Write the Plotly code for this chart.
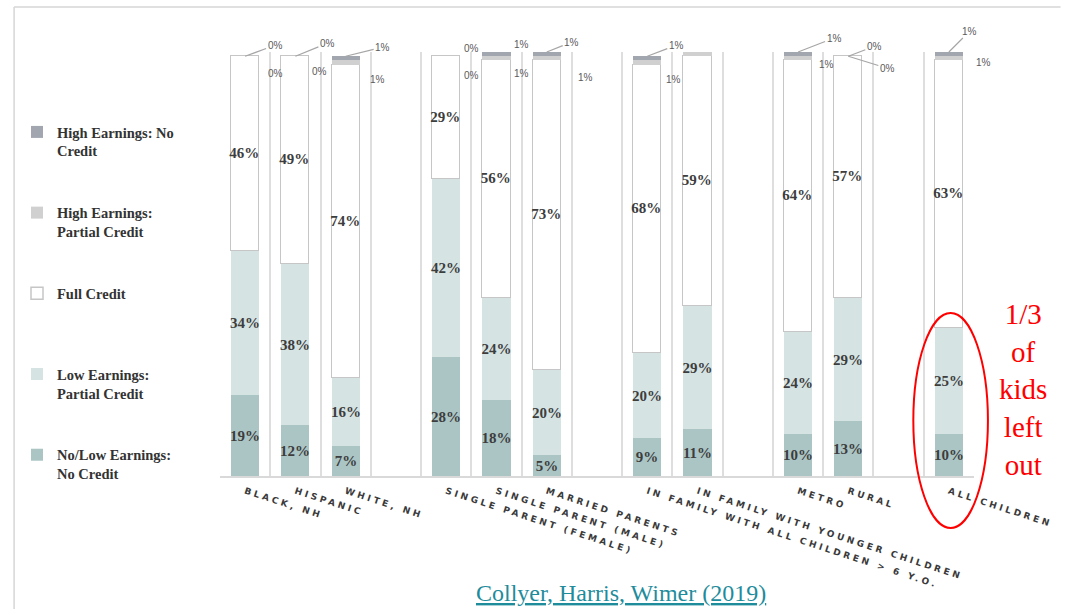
import plotly.graph_objects as go

# ---------------- data ----------------
groups = [
    ["BLACK, NH", "HISPANIC", "WHITE, NH"],
    ["SINGLE PARENT (FEMALE)", "SINGLE PARENT (MALE)", "MARRIED PARENTS"],
    ["IN FAMILY WITH ALL CHILDREN > 6 Y.O.", "IN FAMILY WITH YOUNGER CHILDREN"],
    ["METRO", "RURAL"],
    ["ALL CHILDREN"],
]
no_low_no_credit = [19, 12, 7, 28, 18, 5, 9, 11, 10, 13, 10]
low_partial      = [34, 38, 16, 42, 24, 20, 20, 29, 24, 29, 25]
full_credit      = [46, 49, 74, 29, 56, 73, 68, 59, 64, 57, 63]
high_partial     = [0, 0, 1, 0, 1, 1, 1, 1, 1, 0, 1]
high_no_credit   = [0, 0, 1, 0, 1, 1, 1, 1, 1, 0, 1]

series_names = [
    "No/Low Earnings:<br>No Credit",
    "Low Earnings:<br>Partial Credit",
    "Full Credit<br> ",
    "High Earnings:<br>Partial Credit",
    "High Earnings: No<br>Credit",
]
callout_text = "1/3<br>of<br>kids<br>left<br>out"
citation = "Collyer, Harris, Wimer (2019)"

# ---------------- layout helpers ----------------
categories, positions = [], []
p = 0
for g in groups:
    for c in g:
        categories.append(c)
        positions.append(p)
        p += 1
    p += 1  # blank slot between groups
n_slots = positions[-1] + 1

W, H = 1065, 609
ML, MR, MT, MB = 220, 87, 52, 133
PW, PH = W - ML - MR, H - MT - MB


def px(xp):
    return (xp - ML) / PW


def py(yp):
    return (H - MB - yp) / PH


colors = ["#abc5c5", "#d5e3e3", "#ffffff", "#d0d0d0", "#a2a7af"]
series = [no_low_no_credit, low_partial, full_credit, high_partial, high_no_credit]

fig = go.Figure()
for i, (name, vals, col) in enumerate(zip(series_names, series, colors)):
    txt = [f"{v}%" if v >= 5 else "" for v in vals]
    fig.add_trace(go.Bar(
        x=positions, y=vals, name=name, legendgroup=f"g{i}", legendrank=10 - i,
        marker=dict(color=col,
                    line=dict(color="#c6c6c6" if i == 2 else col, width=1.5 if i == 2 else 0)),
        width=0.56,
        text=txt, textposition="inside", insidetextanchor="middle",
        textangle=0, constraintext="none",
        textfont=dict(family="Liberation Serif", size=15, color="#3d3d3d", weight="bold"),
        hoverinfo="skip",
    ))

# small-value labels above bars (offsets in pixels from bar top)
upper_off = [(30, -11, True), (32, -13, True), (37, -9, True), (25, -8, False), (25, -8, False),
             (25, -10, True), (29, -11, True), (23, -11, False), (36, -14, True), (26, -10, True),
             (21, -21, True)]
lower_off = [(30, 17, False), (24, 15, False), (32, 23, False), (25, 19, False), (25, 21, False),
             (39, 25, False), (26, 23, False), (30, 19, False), (28, 12, False), (39, 12, True),
             (35, 10, False)]
small_font = dict(family="Liberation Sans", size=10, color="#5a5a5a")
tops = [sum(v) for v in zip(*series)]
for k, xpos in enumerate(positions):
    for off, vals in ((upper_off[k], high_no_credit), (lower_off[k], high_partial)):
        dx, dy, leader = off
        if leader:
            fig.add_annotation(x=xpos, y=tops[k], text=f"{vals[k]}%", showarrow=True,
                               ax=dx, ay=dy, arrowhead=0, arrowwidth=1.2,
                               arrowcolor="#a6a6a6", font=small_font, standoff=0)
        else:
            fig.add_annotation(x=xpos, y=tops[k], text=f"{vals[k]}%", showarrow=False,
                               xshift=dx, yshift=-dy, font=small_font)

# red callout
fig.add_shape(type="circle", xref="paper", yref="paper",
              x0=px(917), x1=px(992), y0=py(528), y1=py(313),
              line=dict(color="#ff0000", width=2))
fig.add_annotation(xref="paper", yref="paper", x=px(1027), y=py(389), text=callout_text,
                   showarrow=False, xanchor="center", yanchor="middle",
                   font=dict(family="Liberation Serif", size=29, color="#ff0000"))
# citation
fig.add_annotation(xref="paper", yref="paper", x=px(623), y=py(593), text=citation,
                   showarrow=False, xanchor="center", yanchor="middle",
                   font=dict(family="Liberation Serif", size=24, color="#1f8c9c", lineposition="under"))
# page frame
fig.add_shape(type="line", xref="paper", yref="paper", x0=px(13), x1=px(1065), y0=py(7), y1=py(7),
              line=dict(color="#d6d6d6", width=1.5), layer="above")
fig.add_shape(type="line", xref="paper", yref="paper", x0=px(13), x1=px(13), y0=py(7), y1=py(609),
              line=dict(color="#d6d6d6", width=1.5), layer="above")

ticktext = ['<span style="letter-spacing:3px">' + c.replace(">", "&gt;") + "</span>"
            for c in categories]

fig.update_layout(
    width=W, height=H, margin=dict(l=ML, r=MR, t=MT, b=MB),
    paper_bgcolor="white", plot_bgcolor="white",
    barmode="stack", bargap=0,
    showlegend=True,
    legend=dict(xref="container", yref="container", x=17 / W, y=1 - 116 / H,
                xanchor="left", yanchor="top", traceorder="grouped",
                bgcolor="rgba(0,0,0,0)", borderwidth=0,
                tracegroupgap=40, valign="top", itemwidth=30, maxheight=520,
                font=dict(family="Liberation Serif", size=14.5, color="#333333", weight="bold")),
    xaxis=dict(range=[-0.5, n_slots - 0.5], tickvals=positions, ticktext=ticktext,
               tickangle=18, ticks="", showgrid=False, zeroline=False,
               showline=True, linecolor="#d9d9d9", linewidth=1.5, ticklabelstandoff=5,
               tickfont=dict(family="DejaVu Sans", size=9, color="#3a3a3a", weight="bold"),
               minor=dict(tick0=-0.5, dtick=1, showgrid=True, gridcolor="#dedede", gridwidth=1.5)),
    yaxis=dict(range=[0, 100], visible=False),
)

fig.write_html("out.html")
